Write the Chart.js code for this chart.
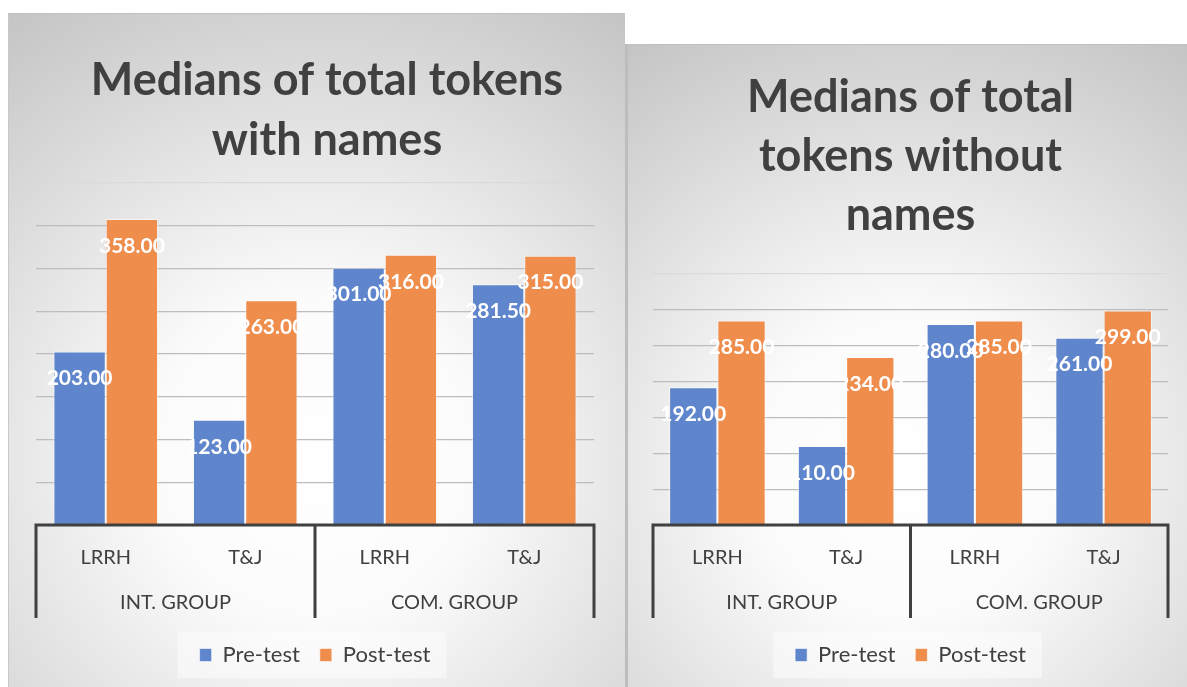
<!DOCTYPE html>
<html>
<head>
<meta charset="utf-8">
<script src="https://cdn.jsdelivr.net/npm/chart.js@4.4.1/dist/chart.umd.min.js"></script>
<style>
  html, body { margin: 0; padding: 0; background: #ffffff; width: 1187px; height: 687px; overflow: hidden; }
  canvas { display: block; position: absolute; }
  #c1 { left: 8px; top: 13px; }
  #c2 { left: 625px; top: 44px; }
</style>
</head>
<body>
<canvas id="c1" width="617" height="674"></canvas>
<canvas id="c2" width="562" height="643"></canvas>
<script>
// ---- data ----
const subCategories = ['LRRH', 'T&J', 'LRRH', 'T&J'];
const groupCategories = ['INT. GROUP', 'COM. GROUP'];
const seriesNames = ['Pre-test', 'Post-test'];

const withNamesPre  = [203.00, 123.00, 301.00, 281.50];
const withNamesPost = [358.00, 263.00, 316.00, 315.00];

const withoutNamesPre  = [192.00, 110.00, 280.00, 261.00];
const withoutNamesPost = [285.00, 234.00, 285.00, 299.00];

const title1 = ['Medians of total tokens', 'with names'];
const title2 = ['Medians of total', 'tokens without', 'names'];

// ---- styles ----
const BLUE = '#5f86cc';
const ORANGE = '#ef8d4d';
const TEXT = '#404040';
const FONT = 'Lato, "Open Sans", sans-serif';

const bgPlugin = {
  id: 'bgPlugin',
  afterLayout(chart, args, opts) {
    const shift = opts.titleShift || 0;
    if (shift && chart.titleBlock) {
      chart.titleBlock.left += shift;
      chart.titleBlock.right += shift;
    }
  },
  beforeDraw(chart, args, opts) {
    const { ctx, width, height } = chart;
    ctx.save();
    const cx = width * 0.5, cy = height * 0.66;
    const r = Math.sqrt(cx * cx + cy * cy);
    const g = ctx.createRadialGradient(cx, cy, 0, cx, cy, r);
    g.addColorStop(0, '#ffffff');
    g.addColorStop(0.3, '#fbfbfb');
    g.addColorStop(1, '#c4c4c4');
    ctx.fillStyle = g;
    ctx.fillRect(0, 0, width, height);
    // panel edges
    ctx.fillStyle = '#c0c0c0';
    ctx.fillRect(0, 0, width, 1);
    ctx.fillStyle = opts.leftEdgeColor || '#c8c8c8';
    ctx.fillRect(0, 0, opts.leftEdge || 1, height);
    // legend backdrop
    const lg = chart.legend;
    if (lg && lg.legendHitBoxes && lg.legendHitBoxes.length) {
      let l = Infinity, r2 = -Infinity, cyL = 0;
      lg.legendHitBoxes.forEach(h => { l = Math.min(l, h.left); r2 = Math.max(r2, h.left + h.width); cyL = h.top + h.height / 2; });
      ctx.fillStyle = 'rgba(255,255,255,0.45)';
      ctx.fillRect(l - 22, cyL - 23, (r2 - l) + 38, 46);
    }
    ctx.restore();
  }
};

const decoPlugin = {
  id: 'decoPlugin',
  afterDatasetsDraw(chart) {
    const { ctx, chartArea } = chart;
    ctx.save();
    // data labels
    ctx.font = 'bold 21px ' + FONT;
    ctx.fillStyle = '#ffffff';
    ctx.textAlign = 'center';
    ctx.textBaseline = 'middle';
    chart.data.datasets.forEach((ds, i) => {
      const meta = chart.getDatasetMeta(i);
      meta.data.forEach((bar, j) => {
        ctx.fillText(ds.data[j].toFixed(2), bar.x, bar.y + 27);
      });
    });
    // axis line and group separators
    const xs = chart.scales.x;
    const bottom = chartArea.bottom;
    const mid = (xs.getPixelForValue(1) + xs.getPixelForValue(2)) / 2;
    ctx.strokeStyle = '#404040';
    ctx.lineWidth = 3;
    ctx.beginPath();
    ctx.moveTo(chartArea.left - 1.5, bottom);
    ctx.lineTo(chartArea.right + 1.5, bottom);
    [chartArea.left, mid, chartArea.right].forEach(x => {
      ctx.moveTo(x, bottom);
      ctx.lineTo(x, bottom + 93);
    });
    ctx.stroke();
    ctx.restore();
  }
};

function makeChart(id, titleLines, titleFont, titlePad, pre, post, yMax, padRight, edge) {
  const cv = document.getElementById(id);
  return new Chart(cv, {
    type: 'bar',
    data: {
      labels: subCategories,
      datasets: [
        { label: seriesNames[0], data: pre, backgroundColor: BLUE, borderColor: 'rgba(255,255,255,0.55)', borderWidth: 1 },
        { label: seriesNames[1], data: post, backgroundColor: ORANGE, borderColor: 'rgba(255,255,255,0.55)', borderWidth: 1 }
      ]
    },
    options: {
      responsive: false,
      animation: false,
      devicePixelRatio: 1,
      layout: { padding: { left: 28, right: padRight, top: 0, bottom: 11 } },
      datasets: { bar: { categoryPercentage: 0.75, barPercentage: 1.0 } },
      plugins: {
        bgPlugin: edge,
        title: {
          display: true,
          text: titleLines,
          color: TEXT,
          font: titleFont,
          padding: titlePad
        },
        legend: {
          position: 'bottom',
          labels: {
            color: TEXT,
            font: { family: FONT, size: 22 },
            boxWidth: 12,
            boxHeight: 13,
            padding: 20
          }
        },
        tooltip: { enabled: false }
      },
      scales: {
        y: {
          min: 0, max: yMax,
          ticks: { display: false, stepSize: 50 },
          border: { display: false },
          grid: {
            drawTicks: false,
            lineWidth: 1.2,
            color: c => (c.tick && c.tick.value === yMax) ? '#dadada' : '#bdbdbd'
          },
          afterFit: s => { s.width = 0; }
        },
        x: {
          weight: 1,
          grid: { display: false },
          border: { display: false },
          ticks: { color: TEXT, font: { family: FONT, size: 20 }, padding: 13, maxRotation: 0 },
          afterFit: s => { s.height = 56; }
        },
        x2: {
          type: 'category',
          labels: groupCategories,
          position: 'bottom',
          offset: true,
          weight: 2,
          grid: { display: false },
          border: { display: false },
          ticks: { color: TEXT, font: { family: FONT, size: 20 }, padding: 2, maxRotation: 0 },
          afterFit: s => { s.height = 43; }
        }
      }
    },
    plugins: [bgPlugin, decoPlugin]
  });
}

makeChart('c1', title1, { family: FONT, size: 45, weight: 'bold', lineHeight: 60 / 45 },
  { top: 37, bottom: 13 }, withNamesPre, withNamesPost, 400, 31,
  { leftEdge: 1, leftEdgeColor: '#c8c8c8', titleShift: 12 });
makeChart('c2', title2, { family: FONT, size: 45, weight: 'bold', lineHeight: 1.31 },
  { top: 24, bottom: 29 }, withoutNamesPre, withoutNamesPost, 350, 19,
  { leftEdge: 3, leftEdgeColor: '#bdbdbd', titleShift: 0 });
</script>
</body>
</html>
